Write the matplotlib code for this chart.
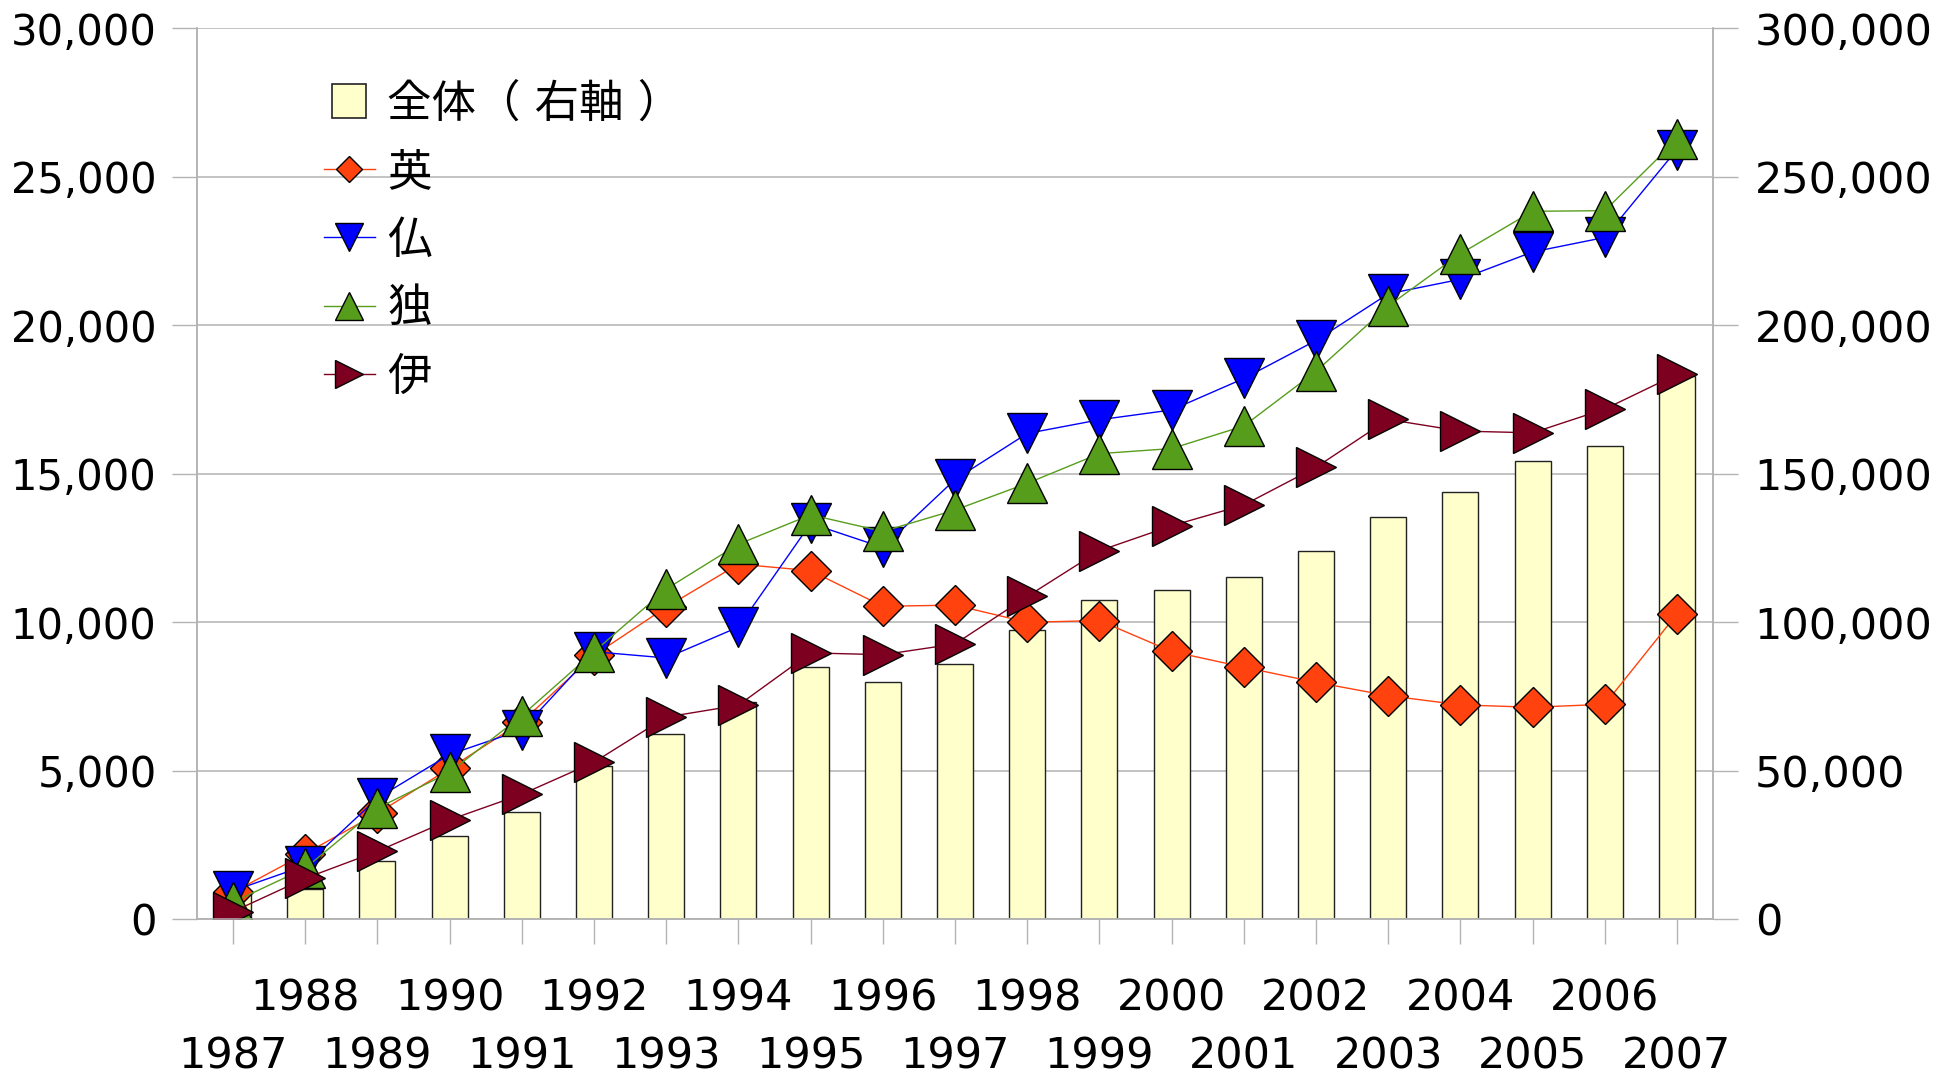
import matplotlib
matplotlib.use('Agg')
import matplotlib.pyplot as plt
from matplotlib.lines import Line2D
from matplotlib.ticker import StrMethodFormatter

plt.rcParams['font.family'] = ['DejaVu Sans', 'Noto Sans CJK JP']

years = list(range(1987, 2008))
total = [9200, 10200, 19400, 27900, 36200, 51500, 62300, 73100, 84700, 79800, 85900,
         97400, 107500, 110900, 115100, 123800, 135300, 143700, 154300, 159200, 183000]
uk = [900, 2200, 3560, 5070, 6640, 8880, 10500, 11950, 11730, 10530, 10570,
      9990, 10050, 9010, 8480, 7970, 7520, 7210, 7130, 7230, 10270]
fr = [950, 1800, 4070, 5540, 6370, 9000, 8790, 9830, 13320, 12510, 14800,
      16350, 16810, 17140, 18200, 19480, 21050, 21540, 22460, 22950, 25910]
de = [570, 1710, 3730, 4940, 6850, 9000, 11110, 12620, 13610, 13050, 13770,
      14670, 15670, 15840, 16600, 18440, 20640, 22400, 23830, 23850, 26250]
it = [250, 1370, 2280, 3340, 4200, 5280, 6800, 7200, 8960, 8900, 9260,
      10860, 12400, 13240, 13940, 15210, 16820, 16430, 16370, 17170, 18340]

names = ['英', '仏', '独', '伊']
series = [uk, fr, de, it]
colors = ['#ff420e', '#0000ff', '#579d1c', '#7e0021']
markers = ['D', 'v', '^', '>']
sizes = [20.5, 29.5, 29.5, 29.5]

grid_c = '#b3b3b3'
fs = 31

fig = plt.figure(figsize=(19.52, 10.74), dpi=100)
ax = fig.add_axes([0.1009, 0.1443, 0.7767, 0.8296])
x = list(range(len(years)))

# bars on the back axis (right scale)
ax.bar(x, total, width=0.5, color='#ffffcc', edgecolor='#222222', linewidth=1.0, zorder=2)
ax.set_ylim(0, 300000)
ax.set_yticks(range(0, 300001, 50000))
ax.yaxis.set_major_formatter(StrMethodFormatter('{x:,.0f}'))
ax.grid(axis='y', color=grid_c, linewidth=1.1, zorder=0)
ax.set_axisbelow(True)
ax.set_xlim(-0.5, len(years) - 0.5)

ax.set_xticks(x[::2], [str(y) for y in years[::2]])
ax.set_xticks(x[1::2], [str(y) for y in years[1::2]], minor=True)
ax.tick_params(axis='x', which='major', length=18, width=1, color=grid_c, pad=66, labelsize=fs)
ax.tick_params(axis='x', which='minor', length=18, width=1, color=grid_c, pad=24, labelsize=fs)

# lines on the front axis (left scale)
ax2 = ax.twinx()
ax.yaxis.tick_right()
ax2.yaxis.tick_left()
ax.tick_params(axis='y', length=18, width=1, color=grid_c, pad=12, labelsize=fs)
ax2.set_ylim(0, 30000)
ax2.set_yticks(range(0, 30001, 5000))
ax2.yaxis.set_major_formatter(StrMethodFormatter('{x:,.0f}'))
ax2.tick_params(axis='y', length=18, width=1, color=grid_c, pad=11, labelsize=30)

for a in (ax, ax2):
    for s in a.spines.values():
        s.set_color(grid_c)
        s.set_linewidth(1.1)
    a.spines['top'].set_visible(False)

handles = [Line2D([], [], linestyle='none', marker='s', markersize=37,
                  markerfacecolor='#ffffcc', markeredgecolor='#222222', markeredgewidth=1.2)]
for name, vals, c, m, ms in zip(names, series, colors, markers, sizes):
    ln, = ax2.plot(x, vals, color=c, linewidth=1.0, marker=m, markersize=ms,
                   markerfacecolor=c, markeredgecolor='black', markeredgewidth=1.0)
    handles.append(ln)

ax2.legend(handles, ['全体（ 右軸 ）'] + names, loc='upper left', bbox_to_anchor=(0.072, 0.959),
           frameon=False, fontsize=32, markerscale=0.66, handlelength=1.15,
           handletextpad=0.28, labelspacing=0.57, borderaxespad=0)

fig.savefig('out.png', dpi=100)
